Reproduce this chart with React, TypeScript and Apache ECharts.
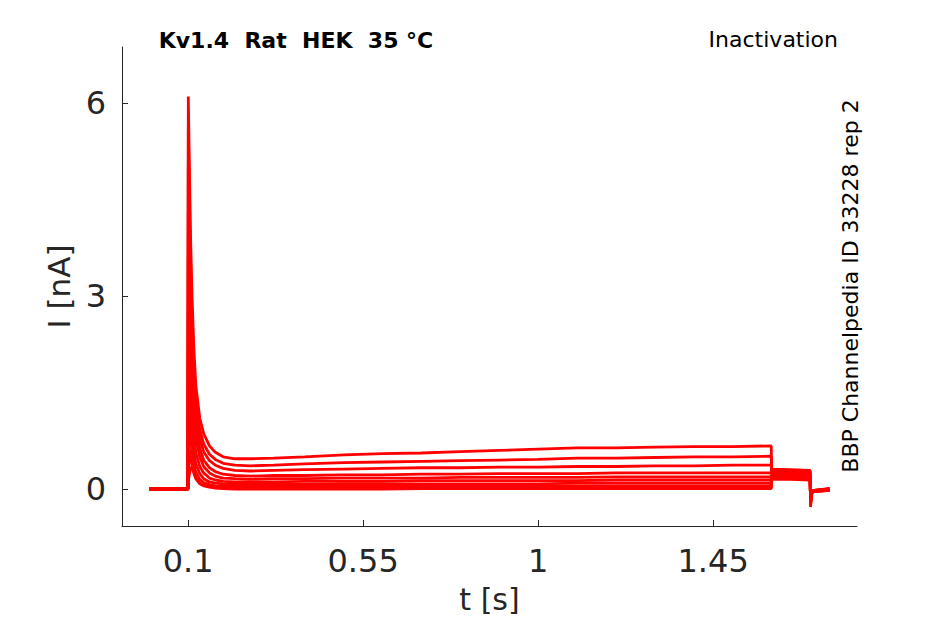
import React, { useEffect, useRef } from "react";
import * as echarts from "echarts";

// time samples (s)
const TIME = [0, 0.05, 0.0995, 0.1005, 0.103, 0.106, 0.11, 0.115, 0.12, 0.13, 0.14, 0.155, 0.17, 0.19, 0.22, 0.26, 0.32, 0.4, 0.5, 0.6, 0.7, 0.8, 0.9, 1.0, 1.1, 1.2, 1.3, 1.4, 1.5, 1.5995, 1.6005, 1.65, 1.6995, 1.7005, 1.704, 1.71, 1.75];

// current traces (nA)
const TRACE_0 = [0, 0, 0, 0.12, 0.22, 0.3, 0.35, 0.27, 0.17, 0.08, 0.05, 0.03, 0.015, 0.005, 0.0, 0.0, 0.0, 0.0, 0.0, 0.0, 0.005, 0.005, 0.005, 0.005, 0.005, 0.005, 0.005, 0.005, 0.005, 0.005, 0.15, 0.15, 0.14, -0.14, -0.03, -0.02, 0.01];
const TRACE_1 = [0, 0, 0, 0.7, 0.62, 0.5, 0.36, 0.24, 0.16, 0.09, 0.06, 0.04, 0.03, 0.02, 0.015, 0.015, 0.015, 0.02, 0.02, 0.02, 0.02, 0.02, 0.02, 0.02, 0.02, 0.02, 0.02, 0.02, 0.02, 0.02, 0.16, 0.16, 0.15, -0.15, -0.03, -0.02, 0.0];
const TRACE_2 = [0, 0, 0, 1.3, 1.08, 0.82, 0.58, 0.38, 0.26, 0.15, 0.1, 0.07, 0.05, 0.045, 0.04, 0.04, 0.04, 0.04, 0.04, 0.05, 0.05, 0.05, 0.05, 0.05, 0.05, 0.05, 0.05, 0.05, 0.05, 0.05, 0.17, 0.17, 0.16, -0.16, -0.04, -0.02, 0.0];
const TRACE_3 = [0, 0, 0, 2.0, 1.65, 1.25, 0.88, 0.57, 0.39, 0.24, 0.16, 0.11, 0.09, 0.08, 0.07, 0.07, 0.07, 0.07, 0.08, 0.08, 0.08, 0.08, 0.08, 0.08, 0.09, 0.09, 0.09, 0.09, 0.09, 0.09, 0.19, 0.18, 0.18, -0.17, -0.04, -0.02, -0.01];
const TRACE_4 = [0, 0, 0, 2.8, 2.3, 1.75, 1.25, 0.82, 0.56, 0.35, 0.25, 0.17, 0.14, 0.12, 0.11, 0.11, 0.11, 0.12, 0.12, 0.12, 0.13, 0.13, 0.13, 0.13, 0.13, 0.14, 0.14, 0.14, 0.14, 0.14, 0.21, 0.2, 0.19, -0.18, -0.04, -0.03, -0.01];
const TRACE_5 = [0, 0, 0, 3.6, 3.0, 2.3, 1.65, 1.1, 0.78, 0.5, 0.35, 0.25, 0.2, 0.17, 0.16, 0.15, 0.16, 0.16, 0.17, 0.17, 0.17, 0.18, 0.18, 0.18, 0.18, 0.19, 0.19, 0.19, 0.19, 0.19, 0.23, 0.22, 0.21, -0.2, -0.05, -0.03, -0.02];
const TRACE_6 = [0, 0, 0, 4.3, 3.6, 2.8, 2.0, 1.35, 0.98, 0.63, 0.45, 0.33, 0.27, 0.23, 0.21, 0.2, 0.21, 0.21, 0.22, 0.22, 0.23, 0.23, 0.24, 0.24, 0.24, 0.25, 0.25, 0.25, 0.25, 0.25, 0.25, 0.24, 0.23, -0.21, -0.05, -0.04, -0.02];
const TRACE_7 = [0, 0, 0, 5.0, 4.2, 3.25, 2.35, 1.6, 1.18, 0.78, 0.58, 0.44, 0.37, 0.32, 0.29, 0.28, 0.29, 0.3, 0.31, 0.32, 0.33, 0.33, 0.34, 0.34, 0.35, 0.35, 0.36, 0.36, 0.37, 0.37, 0.27, 0.26, 0.25, -0.23, -0.06, -0.04, -0.02];
const TRACE_8 = [0, 0.01, 0, 5.6, 4.7, 3.6, 2.7, 1.9, 1.38, 0.92, 0.7, 0.54, 0.46, 0.4, 0.37, 0.36, 0.37, 0.39, 0.41, 0.42, 0.43, 0.44, 0.45, 0.46, 0.48, 0.48, 0.49, 0.5, 0.5, 0.51, 0.29, 0.28, 0.27, -0.25, -0.05, -0.03, -0.01];
const TRACE_9 = [0, 0.01, 0, 6.1, 5.1, 4.0, 3.0, 2.15, 1.6, 1.1, 0.86, 0.67, 0.57, 0.5, 0.47, 0.47, 0.48, 0.5, 0.53, 0.55, 0.56, 0.58, 0.6, 0.62, 0.64, 0.64, 0.65, 0.66, 0.66, 0.67, 0.31, 0.3, 0.29, -0.28, -0.05, -0.03, 0.0];

const TRACES = [TRACE_0, TRACE_1, TRACE_2, TRACE_3, TRACE_4, TRACE_5, TRACE_6, TRACE_7, TRACE_8, TRACE_9];

const X_TICKS = [0.1, 0.55, 1, 1.45];
const Y_TICKS = [0, 3, 6];

const TITLE = "Kv1.4  Rat  HEK  35 °C";
const PROTOCOL = "Inactivation";
const SIDE_LABEL = "BBP Channelpedia ID 33228 rep 2";

const FONT = "DejaVu Sans";
const AXIS_COLOR = "#262626";

export default function App() {
  const ref = useRef<HTMLDivElement>(null);

  useEffect(() => {
    if (!ref.current) return;
    const chart = echarts.init(ref.current, null, { renderer: "svg" });

    const series = TRACES.map((tr, i) => ({
      type: "line",
      name: "trace" + i,
      data: TIME.map((t, j) => [t, tr[j]]),
      symbol: "none",
      silent: true,
      lineStyle: { color: "#ff0000", width: 2.8 },
      itemStyle: { color: "#ff0000" },
    }));

    chart.setOption({
      animation: false,
      backgroundColor: "#ffffff",
      grid: { left: 122, right: 88, top: 47, bottom: 98, containLabel: false },
      xAxis: {
        type: "value",
        min: -0.07,
        max: 1.82,
        name: "t [s]",
        nameLocation: "middle",
        nameGap: 58,
        nameTextStyle: { fontFamily: FONT, fontSize: 30, color: AXIS_COLOR },
        splitLine: { show: false },
        axisLine: { show: true, onZero: false, lineStyle: { color: AXIS_COLOR, width: 1 } },
        axisTick: { show: true, inside: true, length: 6, customValues: X_TICKS, lineStyle: { color: AXIS_COLOR } },
        axisLabel: {
          customValues: X_TICKS,
          fontFamily: FONT,
          fontSize: 32,
          color: AXIS_COLOR,
          margin: 19,
          formatter: (v: number) => String(v),
        },
      },
      yAxis: {
        type: "value",
        min: -0.575,
        max: 6.87,
        name: "I [nA]",
        nameLocation: "middle",
        nameGap: 46,
        nameTextStyle: { fontFamily: FONT, fontSize: 31, color: AXIS_COLOR },
        splitLine: { show: false },
        axisLine: { show: true, onZero: false, lineStyle: { color: AXIS_COLOR, width: 1 } },
        axisTick: { show: true, inside: true, length: 6, customValues: Y_TICKS, lineStyle: { color: AXIS_COLOR } },
        axisLabel: {
          customValues: Y_TICKS,
          fontFamily: FONT,
          fontSize: 32,
          color: AXIS_COLOR,
          margin: 16,
          formatter: (v: number) => String(v),
        },
      },
      graphic: [
        {
          type: "text",
          x: 296,
          y: 40,
          style: {
            text: TITLE,
            font: `bold 22px "${FONT}"`,
            fill: "#000000",
            textAlign: "center",
            textVerticalAlign: "middle",
          },
        },
        {
          type: "text",
          x: 838,
          y: 39,
          style: {
            text: PROTOCOL,
            font: `22px "${FONT}"`,
            fill: "#000000",
            textAlign: "right",
            textVerticalAlign: "middle",
          },
        },
        {
          type: "text",
          x: 850,
          y: 286,
          rotation: Math.PI / 2,
          style: {
            text: SIDE_LABEL,
            font: `22px "${FONT}"`,
            fill: "#000000",
            textAlign: "center",
            textVerticalAlign: "middle",
          },
        },
      ],
      series,
    });

    return () => chart.dispose();
  }, []);

  return (
    <div
      ref={ref}
      style={{ position: "absolute", left: 0, top: 0, width: 945, height: 624, background: "#fff" }}
    />
  );
}
